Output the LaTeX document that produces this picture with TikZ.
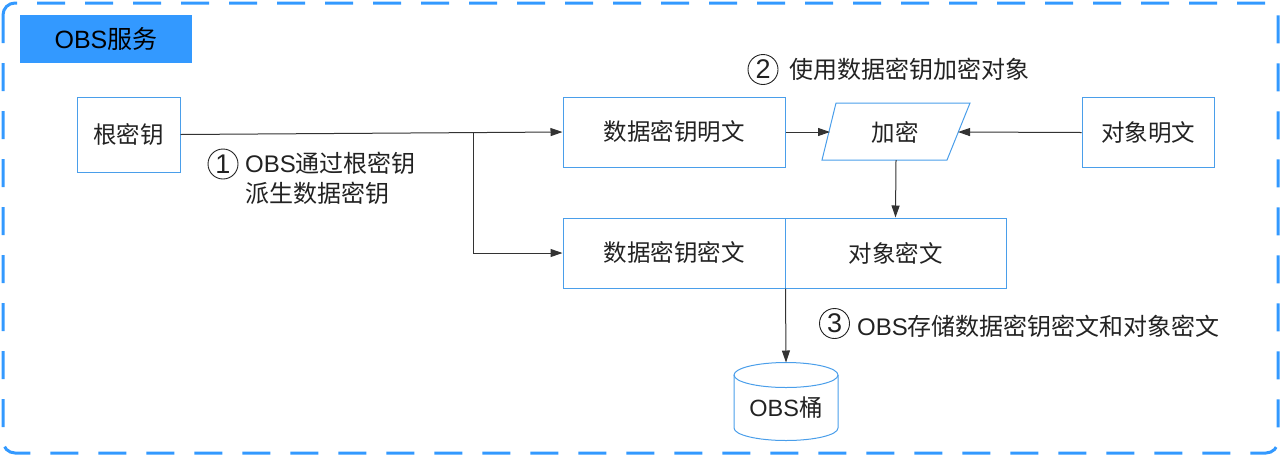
\documentclass[tikz,border=0pt]{standalone}
\usepackage{fontspec}
\setmainfont{Noto Sans CJK SC}
\newfontfamily\latf{Liberation Sans}
\usetikzlibrary{arrows.meta,calc}
\definecolor{obsblue}{HTML}{3399FF}
\definecolor{boxblue}{HTML}{4A9EEA}
\definecolor{lnc}{HTML}{333333}
\definecolor{txt}{HTML}{222222}
\newcommand\lt[1]{{\latf #1}}
\begin{document}
\begin{tikzpicture}[x=1pt,y=-1pt,
  font=\fontsize{23.5}{28}\selectfont, text=txt,
  bx/.style={draw=boxblue, line width=1pt, rectangle, inner sep=0pt},
  arr/.style={draw=lnc, line width=1pt, -{Triangle[length=12pt,width=8pt]}},
  lbl/.style={anchor=west, inner sep=0pt, font=\fontsize{24}{28}\selectfont},
  num/.style={circle, draw=txt, line width=0.9pt, minimum size=30pt, inner sep=0pt,
    font=\latf\fontsize{27}{28}\selectfont}]
\useasboundingbox (0,0) rectangle (1281,456);
% outer dashed frame
\draw[obsblue, line width=3pt, dash pattern=on 28pt off 20pt, rounded corners=12pt] (3,3) rectangle (1278,453);
% title
\node[fill=obsblue, minimum width=172pt, minimum height=48pt, inner sep=0pt, text=black,
  font=\fontsize{25}{28}\selectfont] (title) at (106,39) {\lt{OBS}服务};
% boxes
\node[bx, minimum width=103pt, minimum height=75pt] (root) at (128.5,134.5) {根密钥};
\node[bx, minimum width=222pt, minimum height=70pt] (dkp) at (674,132) {数据密钥明文};
\node[bx, minimum width=132pt, minimum height=70pt] (objp) at (1148,132.5) {对象明文};
\node[bx, minimum width=222pt, minimum height=70pt] (dkc) at (674,253) {数据密钥密文};
\node[bx, minimum width=221pt, minimum height=70pt] (objc) at (895.5,253) {对象密文};
% parallelogram
\draw[boxblue, line width=1pt] (836,103) -- (970,103) -- (947,160) -- (822,160) -- cycle;
\node (enc) at (895,132) {加密};
\coordinate (encL) at (830,132);
\coordinate (encR) at (958,132);
\coordinate (encB) at (896,160);
% cylinder
\draw[boxblue, line width=1pt] (734,375) -- (734,428) arc[start angle=180, end angle=360, x radius=52, y radius=-12.5] -- (838,375);
\draw[boxblue, line width=1pt] (786,375) ellipse[x radius=52, y radius=12.5];
\node (bucket) at (786,408) {\lt{OBS}桶};
\coordinate (cylT) at (786,362.5);
% connectors
\coordinate (br) at (473,133);
\draw[arr] (root.east) -- (dkp.west);
\draw[arr] (br) |- (dkc.west);
\draw[arr] (dkp.east) -- (encL);
\draw[arr] (objp.west) -- (encR);
\draw[arr] (encB) -- (objc.north);
\draw[arr] (dkc.south east) -- (cylT);
% labels
\node[num] (c1) at (223,164) {1};
\node[lbl] (l1a) at (245,163) {\lt{OBS}通过根密钥};
\node[lbl] (l1b) at (245,193) {派生数据密钥};
\node[num] (c2) at (763,69.5) {2};
\node[lbl] (l2) at (789,69) {使用数据密钥加密对象};
\node[num] (c3) at (834.5,323.5) {3};
\node[lbl] (l3) at (857,326) {\lt{OBS}存储数据密钥密文和对象密文};
\end{tikzpicture}
\end{document}
